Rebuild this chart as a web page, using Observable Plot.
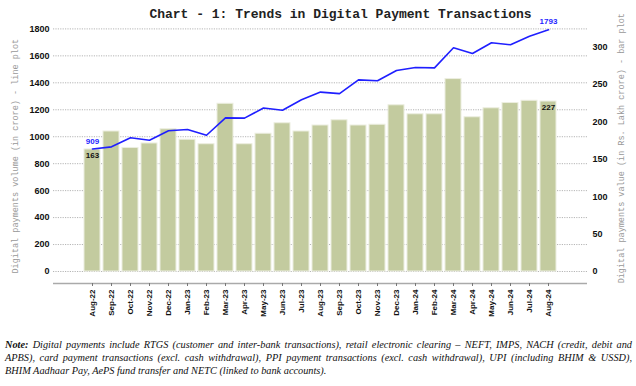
<!DOCTYPE html>
<html>
<head>
<meta charset="utf-8">
<script src="https://cdn.jsdelivr.net/npm/d3@7"></script>
<script src="https://cdn.jsdelivr.net/npm/@observablehq/plot@0.6"></script>
<style>
  html, body { margin: 0; padding: 0; background: #fff; }
  #wrap { position: relative; width: 636px; height: 386px; overflow: hidden; }
  #chart { position: absolute; left: 0; top: 0; }
  #note { position: absolute; left: 5px; top: 338px; width: 627px;
          font-family: "Liberation Serif", serif; font-style: italic; font-size: 10.3px;
          line-height: 13px; color: #111; }
  #note .j { text-align: justify; text-align-last: justify; white-space: nowrap; }
  #note .l { white-space: nowrap; }
</style>
</head>
<body>
<div id="wrap">
  <div id="chart"></div>
  <div id="note">
    <div class="j"><b>Note:</b> Digital payments include RTGS (customer and inter-bank transactions), retail electronic clearing – NEFT, IMPS, NACH (credit, debit and</div>
    <div class="j">APBS), card payment transactions (excl. cash withdrawal), PPI payment transactions (excl. cash withdrawal), UPI (including BHIM &amp; USSD),</div>
    <div class="l">BHIM Aadhaar Pay, AePS fund transfer and NETC (linked to bank accounts).</div>
  </div>
</div>
<script>
const months = ["Aug-22","Sep-22","Oct-22","Nov-22","Dec-22","Jan-23","Feb-23","Mar-23","Apr-23","May-23","Jun-23","Jul-23","Aug-23","Sep-23","Oct-23","Nov-23","Dec-23","Jan-24","Feb-24","Mar-24","Apr-24","May-24","Jun-24","Jul-24","Aug-24"];
const volume = [909, 925, 992, 974, 1044, 1054, 1011, 1140, 1138, 1213, 1196, 1274, 1331, 1320, 1422, 1415, 1491, 1514, 1511, 1660, 1617, 1697, 1682, 1746, 1793];
const value = [163, 187, 165, 171, 190, 176, 170, 224, 170, 184, 198, 187, 195, 202, 195, 196, 222, 210, 210, 257, 206, 218, 225, 228, 227];
const leftTicks = [0, 200, 400, 600, 800, 1000, 1200, 1400, 1600, 1800];
const rightTicks = [0, 50, 100, 150, 200, 250, 300];
const title = "Chart - 1: Trends in Digital Payment Transactions";
const leftTitle = "Digital payments volume (in crore) - line plot";
const rightTitle = "Digital payments value (in Rs. Lakh crore) - bar plot";

const k = 1800 / 324; // right-axis units -> left-axis units
const data = months.map((m, i) => ({month: m, volume: volume[i], value: value[i]}));
const ends = [data[0], data[data.length - 1]];

const chart = Plot.plot({
  width: 636,
  height: 330,
  marginLeft: 53,
  marginRight: 49,
  marginTop: 28.4,
  marginBottom: 59,
  style: {fontFamily: "Liberation Sans, Arial, sans-serif", background: "#fff", overflow: "visible"},
  x: {domain: months, paddingInner: 0.18, paddingOuter: 1.24, axis: null},
  y: {domain: [0, 1800], axis: null},
  marks: [
    Plot.ruleY(leftTicks, {stroke: "#b5b5b5", strokeDasharray: "1.2,1.2", strokeWidth: 1}),
    Plot.barY(data, {x: "month", y: d => d.value * k, fill: "#c3cb9f", stroke: "#eceee0", strokeWidth: 1}),
    Plot.line(data, {x: "month", y: "volume", stroke: "#1f1fff", strokeWidth: 1.6}),
    Plot.text(ends, {x: "month", y: "volume", text: d => String(d.volume), dy: -8, fill: "#1f1fff", fontWeight: "bold", fontSize: 8}),
    Plot.text(ends, {x: "month", y: d => d.value * k, text: d => String(d.value), dy: 6, fill: "#111", fontWeight: "bold", fontSize: 8}),
    Plot.ruleY([0], {dy: 12, stroke: "#aaa", strokeWidth: 1.5}),
    Plot.axisX({tickSize: 3, dy: 12, tickRotate: -90, tickPadding: 3, fontSize: 8, fontWeight: "bold", stroke: "#777", fill: "#111", label: null}),
    Plot.axisY(leftTicks, {anchor: "left", tickSize: 0, tickPadding: 4, fontSize: 9, fontWeight: "bold", fill: "#111", label: null, tickFormat: d => String(d)}),
    Plot.axisY(rightTicks.map(v => v * k), {anchor: "right", tickSize: 0, tickPadding: 5, fontSize: 9, fontWeight: "bold", fill: "#111", label: null, tickFormat: d => String(Math.round(d / k))}),
    Plot.text([title], {frameAnchor: "top", dy: -20, dx: 20, fontFamily: "Liberation Mono, monospace", fontWeight: "bold", fontSize: 13, fill: "#222"}),
    Plot.text([leftTitle], {frameAnchor: "left", textAnchor: "middle", dx: -38, dy: 6, rotate: -90, fontFamily: "Liberation Mono, monospace", fontSize: 8.5, fill: "#999"}),
    Plot.text([rightTitle], {frameAnchor: "right", textAnchor: "middle", dx: 34, dy: -2, rotate: -90, fontFamily: "Liberation Mono, monospace", fontSize: 8.5, fill: "#999"})
  ]
});
document.getElementById("chart").appendChild(chart);
</script>
</body>
</html>
